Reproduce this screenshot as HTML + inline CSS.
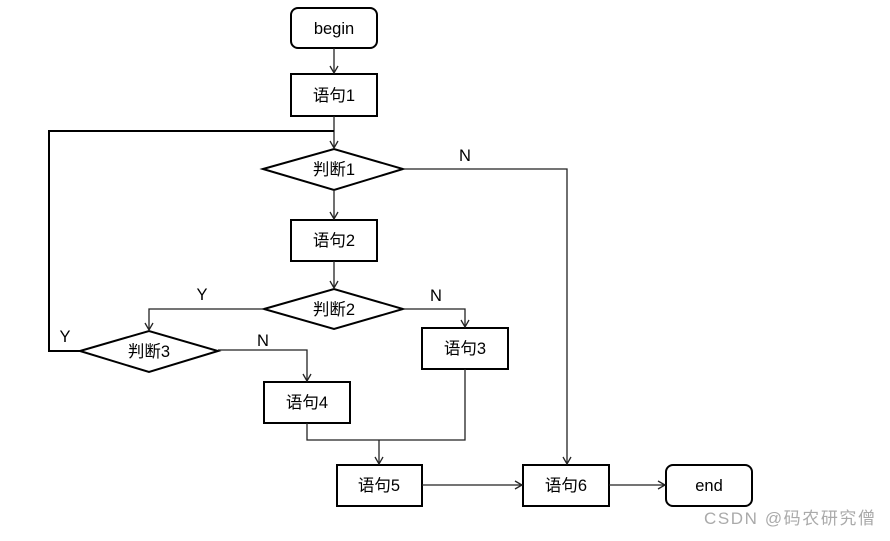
<!DOCTYPE html>
<html><head><meta charset="utf-8"><style>
body{margin:0;background:#fff;}
svg text{font-family:"Liberation Sans","Noto Sans CJK SC",sans-serif;font-size:16.5px;fill:#000;}
</style></head><body>
<svg width="890" height="536" viewBox="0 0 890 536" xmlns="http://www.w3.org/2000/svg">
<defs><marker id="a" markerWidth="10" markerHeight="10" refX="8" refY="5" orient="auto" markerUnits="userSpaceOnUse"><path d="M1,1 L8,5 L1,9" fill="none" stroke="#222" stroke-width="1.3"/></marker></defs>
<g fill="none" stroke="#000" stroke-width="2">
<rect x="291" y="8" width="86" height="40" rx="7"/>
<rect x="291" y="74" width="86" height="42"/>
<polygon points="263,169 334,149 403,169 334,190"/>
<rect x="291" y="220" width="86" height="41"/>
<polygon points="264,309 334,289 403,309 334,329"/>
<rect x="422" y="328" width="86" height="41"/>
<polygon points="80,351 149,331 218,351 149,372"/>
<rect x="264" y="382" width="86" height="41"/>
<rect x="337" y="465" width="85" height="41"/>
<rect x="523" y="465" width="86" height="41"/>
<rect x="666" y="465" width="86" height="41" rx="7"/>
</g>
<g fill="none" stroke="#222" stroke-width="1.3">
<path d="M334,48 V73" marker-end="url(#a)"/>
<path d="M334,116 V148" marker-end="url(#a)"/>
<path d="M334,131 H49 V351 H80" stroke-width="2" stroke="#000"/>
<path d="M334,190 V219" marker-end="url(#a)"/>
<path d="M334,261 V288" marker-end="url(#a)"/>
<path d="M403,169 H567 V464" marker-end="url(#a)"/>
<path d="M264,309 H149 V330" marker-end="url(#a)"/>
<path d="M403,309 H465 V327" marker-end="url(#a)"/>
<path d="M218,350 H307 V381" marker-end="url(#a)"/>
<path d="M307,423 V440 H465 V369"/>
<path d="M379,440 V464" marker-end="url(#a)"/>
<path d="M422,485 H522" marker-end="url(#a)"/>
<path d="M609,485 H665" marker-end="url(#a)"/>
</g>
<g text-anchor="middle">
<text x="334" y="34">begin</text>
<text x="334" y="101">语句1</text>
<text x="334" y="175">判断1</text>
<text x="334" y="246">语句2</text>
<text x="334" y="315">判断2</text>
<text x="465" y="354">语句3</text>
<text x="149" y="357">判断3</text>
<text x="307" y="408">语句4</text>
<text x="379" y="491">语句5</text>
<text x="566" y="491">语句6</text>
<text x="709" y="491">end</text>
<text x="465" y="161">N</text>
<text x="202" y="300">Y</text>
<text x="436" y="301">N</text>
<text x="65" y="342">Y</text>
<text x="263" y="346">N</text>
</g>
<text x="704" y="524" textLength="171" style="font-size:17px;fill:#aaa">CSDN @码农研究僧</text>
</svg>
</body></html>
